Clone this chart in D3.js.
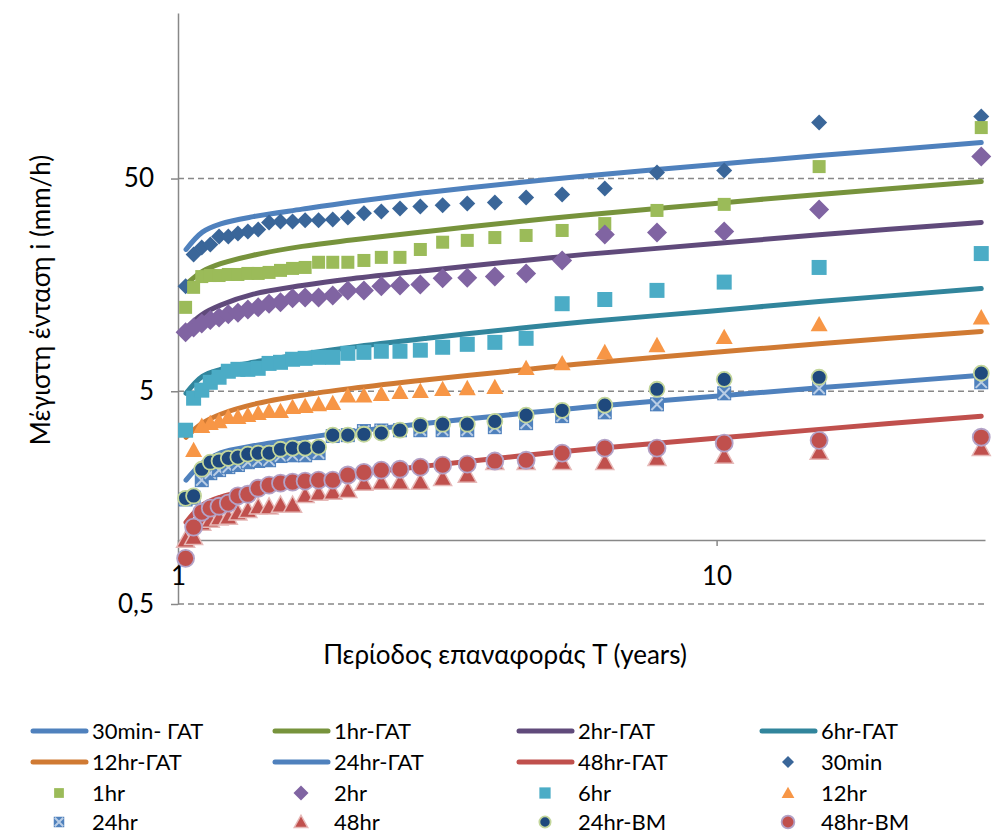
<!DOCTYPE html>
<html><head><meta charset="utf-8">
<script src="https://cdn.jsdelivr.net/npm/d3@7"></script>
<style>body{margin:0;background:#fff} text{font-family:Lato,"Open Sans",sans-serif;fill:#000}</style>
</head><body><svg id="c" width="996" height="834"></svg>
<script>
// ---- data ----
const periods = [1.033,1.069,1.107,1.148,1.192,1.24,1.292,1.348,1.409,1.476,1.55,1.632,1.722,1.824,1.938,2.067,2.214,2.385,2.583,2.818,3.1,3.444,3.875,4.429,5.167,6.2,7.75,10.33,15.5,31];
const obs30min = [15.6,22.0,23.7,24.5,26.7,26.7,27.6,28.2,28.8,31.1,31.4,31.4,31.8,31.8,32.1,32.8,34.3,35.0,36.2,36.9,37.4,38.2,38.6,40.7,42.1,44.9,53.4,54.6,91.6,97.8];
const obs1hr = [12.4,15.4,17.3,17.5,17.5,17.7,17.7,17.9,17.9,18.1,18.5,18.9,19.1,20.2,20.2,20.2,20.6,21.3,21.3,23.2,25.1,25.6,26.4,27.0,28.5,30.7,35.4,37.8,56.9,86.8];
const obs2hr = [9.46,9.98,10.4,10.8,11.1,11.5,11.7,12.1,12.4,12.9,13.1,13.7,13.8,13.8,14.1,14.9,14.9,15.6,15.7,15.9,17.0,17.1,17.3,17.9,20.6,27.3,27.9,28.2,35.8,63.4];
const obs6hr = [3.28,4.64,5.06,5.51,5.82,6.21,6.34,6.34,6.41,6.76,6.84,7.07,7.14,7.22,7.22,7.54,7.62,7.71,7.71,7.8,8.05,8.31,8.49,8.87,12.9,13.5,14.9,16.3,19.1,22.2];
const obs12hr = [null,2.64,3.43,3.54,3.61,3.78,3.78,3.86,3.94,4.03,4.03,4.21,4.25,4.34,4.39,4.76,4.76,4.84,4.95,5.0,5.11,5.16,5.22,6.41,6.76,7.62,8.22,8.97,10.3,11.1];
const obs24hr = [1.55,1.58,1.91,2.06,2.13,2.20,2.25,2.32,2.35,2.37,2.48,2.50,2.50,2.56,3.08,3.11,3.25,3.27,3.28,3.28,3.28,3.28,3.39,3.54,3.82,3.98,4.34,4.89,5.16,5.51];
const obs48hr = [1.0,1.03,1.20,1.24,1.27,1.28,1.34,1.38,1.43,1.43,1.46,1.46,1.62,1.66,1.68,1.71,1.85,1.87,1.87,1.87,1.95,2.02,2.32,2.32,2.32,2.32,2.42,2.48,2.59,2.70];
const obs24hrBM = [1.57,1.61,2.15,2.32,2.35,2.42,2.45,2.53,2.56,2.56,2.67,2.70,2.70,2.73,3.11,3.11,3.14,3.18,3.28,3.46,3.50,3.50,3.61,3.86,4.07,4.30,5.11,5.69,5.82,6.08];
const obs48hrBM = [0.82,1.15,1.35,1.41,1.44,1.49,1.61,1.64,1.75,1.81,1.85,1.87,1.89,1.91,1.91,2.02,2.08,2.13,2.15,2.20,2.25,2.27,2.35,2.37,2.56,2.70,2.70,2.85,2.94,3.04];

const curvePeriods = [1.035,1.11,1.2,1.38,1.7,2.1,2.9,4.3,5.7,9.7,15.5,31];
const gat30min = [23.2,28.0,30.6,33.1,35.9,38.8,43.0,47.9,51.4,57.9,64.1,73.8];
const gat1hr = [15.9,18.3,19.9,21.8,24.0,25.7,28.2,31.4,33.7,38.0,42.1,48.4];
const gat2hr = [9.89,11.5,12.7,14.3,15.7,16.9,18.5,20.5,22.0,24.6,27.2,31.1];
const gat6hr = [4.89,5.88,6.34,6.84,7.46,8.05,8.87,9.89,10.6,11.9,13.2,15.2];
const gat12hr = [3.04,3.54,3.90,4.34,4.79,5.16,5.67,6.28,6.76,7.58,8.36,9.56];
const gat24hr = [1.91,2.30,2.57,2.77,3.01,3.23,3.54,3.92,4.21,4.71,5.19,5.94];
const gat48hr = [1.21,1.46,1.59,1.72,1.88,2.03,2.23,2.48,2.66,2.99,3.31,3.82];

const yTicks = [0.5,5,50];
const xTicks = [1,10];
const xTitle = "Περίοδος επαναφοράς T (years)";
const yTitle = "Μέγιστη ένταση i  (mm/h)";

// ---- series definitions ----
const lineSeries = [
  {name:"30min- ΓΑΤ", vals:gat30min, color:"#4F81BD"},
  {name:"1hr-ΓΑΤ", vals:gat1hr, color:"#77933C"},
  {name:"2hr-ΓΑΤ", vals:gat2hr, color:"#604A7B"},
  {name:"6hr-ΓΑΤ", vals:gat6hr, color:"#31859C"},
  {name:"12hr-ΓΑΤ", vals:gat12hr, color:"#D07A33"},
  {name:"24hr-ΓΑΤ", vals:gat24hr, color:"#4F81BD"},
  {name:"48hr-ΓΑΤ", vals:gat48hr, color:"#C0504D"}
];
const markerSeries = [
  {name:"30min", vals:obs30min, shape:"diamond", size:8, fill:"#3A6699"},
  {name:"1hr", vals:obs1hr, shape:"square", size:6.5, fill:"#9BBB59"},
  {name:"2hr", vals:obs2hr, shape:"diamond", size:10, fill:"#8064A2"},
  {name:"6hr", vals:obs6hr, shape:"square", size:7.5, fill:"#4BACC6"},
  {name:"12hr", vals:obs12hr, shape:"triangle", size:8.5, fill:"#F79646"},
  {name:"24hr", vals:obs24hr, shape:"xsquare", size:7, fill:"#4F81BD"},
  {name:"48hr", vals:obs48hr, shape:"triangle", size:9, fill:"#C0504D", stroke:"#E6B9B8"},
  {name:"24hr-BM", vals:obs24hrBM, shape:"circle", size:7.5, fill:"#1F497D", stroke:"#C3D69B"},
  {name:"48hr-BM", vals:obs48hrBM, shape:"circle", size:8.5, fill:"#C0504D", stroke:"#B3A2C7"}
];

const svg = d3.select("#c");
const x = d3.scaleLog().domain([1,31.5]).range([178,985]);
const y = d3.scaleLog().domain([0.5,300]).range([604,13]);

// gridlines
svg.append("g").selectAll("line").data(yTicks).join("line")
  .attr("x1",178).attr("x2",985).attr("y1",d=>y(d)).attr("y2",d=>y(d))
  .attr("stroke","#888").attr("stroke-width",1.5).attr("stroke-dasharray","6,4");

// y axis
const ya = svg.append("g").attr("transform","translate(178,0)")
  .call(d3.axisLeft(y).tickValues(yTicks).tickSize(7).tickSizeOuter(0).tickPadding(17)
    .tickFormat(d=>String(d).replace(".",",")));
ya.select(".domain").attr("stroke","#888").attr("stroke-width",1.5);
ya.selectAll(".tick line").attr("stroke","#888").attr("stroke-width",1.5);
ya.selectAll(".tick text").style("font-size","26px").style("font-family","Lato").attr("fill","#000");

// x axis at y = 1
const xa = svg.append("g").attr("transform",`translate(0,${y(1)})`)
  .call(d3.axisBottom(x).tickValues(xTicks).tickSize(6).tickSizeOuter(0).tickPadding(21).tickFormat(d3.format("d")));
xa.select(".domain").attr("stroke","#888").attr("stroke-width",1.5);
xa.selectAll(".tick line").attr("stroke","#888").attr("stroke-width",1.5);
xa.selectAll(".tick text").style("font-size","26px").style("font-family","Lato").attr("fill","#000");

// titles
svg.append("text").attr("x",505).attr("y",664).attr("text-anchor","middle")
  .style("font-size","26px").text(xTitle);
svg.append("text").attr("transform","translate(50,300) rotate(-90)").attr("text-anchor","middle")
  .style("font-size","26px").text(yTitle);

// fitted lines
const line = d3.line().x(d=>x(d[0])).y(d=>y(d[1])).curve(d3.curveCatmullRom.alpha(0.5));
const gl = svg.append("g");
lineSeries.forEach(s=>{
  gl.append("path").datum(curvePeriods.map((t,i)=>[t,s.vals[i]]))
    .attr("d",line).attr("fill","none").attr("stroke",s.color)
    .attr("stroke-width",5).attr("stroke-linecap","round");
});

// marker drawing
function drawMarker(g, s, cx, cy, scale){
  const h = s.size*(scale||1);
  if(s.shape==="diamond"){
    g.append("path").attr("d",`M${cx},${cy-h}L${cx+h},${cy}L${cx},${cy+h}L${cx-h},${cy}Z`).attr("fill",s.fill);
  } else if(s.shape==="square"){
    g.append("rect").attr("x",cx-h).attr("y",cy-h).attr("width",2*h).attr("height",2*h).attr("fill",s.fill);
  } else if(s.shape==="triangle"){
    g.append("path").attr("d",`M${cx},${cy-h}L${cx+h},${cy+h*0.8}L${cx-h},${cy+h*0.8}Z`).attr("fill",s.fill)
      .attr("stroke",s.stroke||"none").attr("stroke-width",s.stroke?1.5:0);
  } else if(s.shape==="xsquare"){
    g.append("rect").attr("x",cx-h).attr("y",cy-h).attr("width",2*h).attr("height",2*h).attr("fill",s.fill);
    g.append("path").attr("d",`M${cx-h*0.8},${cy-h*0.8}L${cx+h*0.8},${cy+h*0.8}M${cx+h*0.8},${cy-h*0.8}L${cx-h*0.8},${cy+h*0.8}`)
      .attr("stroke","#B9CDE5").attr("stroke-width",2);
  } else if(s.shape==="circle"){
    g.append("circle").attr("cx",cx).attr("cy",cy).attr("r",h).attr("fill",s.fill)
      .attr("stroke",s.stroke).attr("stroke-width",1.8);
  }
}
const gm = svg.append("g");
markerSeries.forEach(s=>{
  const g = gm.append("g");
  periods.forEach((t,i)=>{ if(s.vals[i]!=null) drawMarker(g,s,x(t),y(s.vals[i]),1); });
});

// legend
const legendItems = lineSeries.map(s=>({type:"line",s})).concat(markerSeries.map(s=>({type:"marker",s})));
const colX = [30,272,516,759];
const rowY = [731,762,793,822];
const lg = svg.append("g");
legendItems.forEach((it,i)=>{
  const c = i%4, r = Math.floor(i/4);
  const x0 = colX[c], yy = rowY[r];
  if(it.type==="line"){
    lg.append("line").attr("x1",x0+3).attr("x2",x0+56).attr("y1",yy).attr("y2",yy)
      .attr("stroke",it.s.color).attr("stroke-width",5).attr("stroke-linecap","round");
  } else {
    drawMarker(lg,it.s,x0+29,yy,0.75);
  }
  lg.append("text").attr("x",x0+62).attr("y",yy).attr("dy","0.35em")
    .style("font-size","22px").text(it.s.name);
});
</script></body></html>
